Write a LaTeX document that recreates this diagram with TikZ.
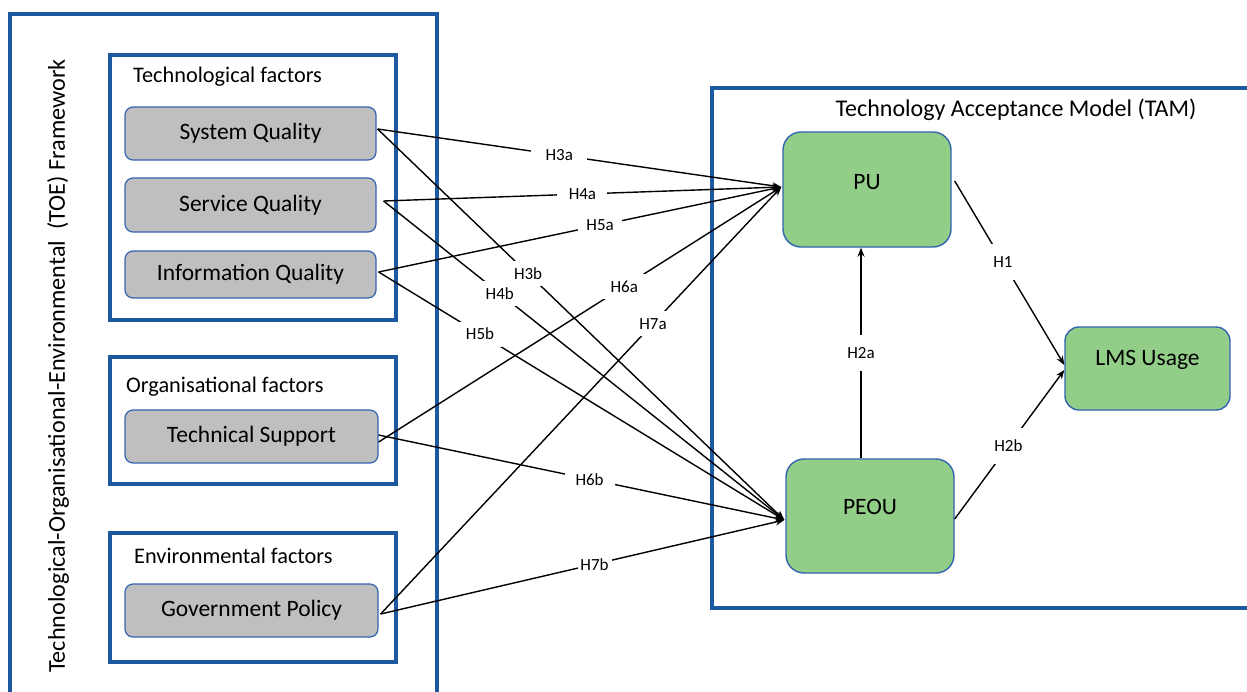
\documentclass[tikz,border=0pt]{standalone}
\usepackage{fontspec}
\setmainfont{Carlito}
\usetikzlibrary{arrows.meta}
\definecolor{frameblue}{RGB}{30,88,158}
\definecolor{nodeblue}{RGB}{50,100,175}
\definecolor{boxgray}{RGB}{191,191,191}
\definecolor{boxgreen}{RGB}{147,206,137}
\begin{document}
\begin{tikzpicture}[x=1pt,y=-1pt,
  frame/.style={draw=frameblue,line width=3.5pt},
  factor/.style={draw=nodeblue,line width=1.2pt,fill=boxgray,rounded corners=8pt,
    inner sep=0pt,font=\fontsize{23.5}{27}\selectfont},
  tam/.style={draw=nodeblue,line width=1.4pt,fill=boxgreen,rounded corners=18pt,
    inner sep=0pt},
  tamtext/.style={font=\fontsize{23.5}{27}\selectfont,inner sep=0pt},
  title/.style={font=\fontsize{22.3}{26}\selectfont,anchor=west,inner sep=0pt},
  lbl/.style={fill=white,inner sep=0pt,minimum width=44pt,minimum height=25pt,
    font=\fontsize{17}{19}\selectfont},
  vlbl/.style={lbl,minimum width=30pt,minimum height=36pt},
  arr/.style={line width=1.4pt,-{Stealth[length=9pt,width=7pt]}}]
\useasboundingbox (0,0) rectangle (1247,691);
\clip (0,0) rectangle (1247,691);
% frames
\draw[frame] (10,14) rectangle (437,710);
\draw[frame] (110,55) rectangle (396,320);
\draw[frame] (110,357) rectangle (396,484);
\draw[frame] (110,533) rectangle (396,662);
\draw[frame] (712,88) rectangle (1270,608);
% titles
\node[rotate=90,font=\fontsize{24.2}{28}\selectfont,inner sep=0pt] (toe) at (58,366)
  {Technological-Organisational-Environmental\ \ (TOE) Framework};
\node[title] (tft) at (133,77) {Technological factors};
\node[title] (oft) at (126,387) {Organisational factors};
\node[title] (eft) at (134,556) {Environmental factors};
\node[font=\fontsize{24}{28}\selectfont,inner sep=0pt] (tamt) at (1016,110) {Technology Acceptance Model (TAM)};
% factor nodes
\node[factor,minimum width=251pt,minimum height=53pt] (SQ) at (250.5,133.5) {System Quality};
\node[factor,minimum width=251pt,minimum height=54pt] (SVQ) at (250.5,205) {Service Quality};
\node[factor,minimum width=251pt,minimum height=47pt] (IQ) at (250.5,274.5) {Information Quality};
\node[factor,minimum width=253pt,minimum height=53pt] (TS) at (251.5,436.5) {Technical Support};
\node[factor,minimum width=253pt,minimum height=53pt] (GP) at (251.5,610.5) {Government Policy};
% TAM nodes
\node[tam,minimum width=168pt,minimum height=115pt] (PU) at (867,189.5) {};
\node[tamtext] (PUt) at (867,182) {PU};
\node[tam,minimum width=168pt,minimum height=114pt] (PEOU) at (870,516) {};
\node[tamtext] (PEOUt) at (870,507) {PEOU};
\node[tam,minimum width=165pt,minimum height=83pt,rounded corners=14pt] (LMS) at (1147.5,368.5) {};
\node[tamtext] (LMSt) at (1147.5,360) {LMS Usage};
% connection points
\coordinate (sq) at ([shift={(1,-4.5)}]SQ.east);
\coordinate (svq) at ([shift={(7,-4)}]SVQ.east);
\coordinate (iq) at ([shift={(2,-2.5)}]IQ.east);
\coordinate (tsa) at ([shift={(0,5.5)}]TS.east);
\coordinate (tsb) at ([shift={(0,-1.5)}]TS.east);
\coordinate (gp) at ([shift={(2,3.5)}]GP.east);
\coordinate (pu) at ([shift={(-1,-2.5)}]PU.west);
\coordinate (peou) at ([shift={(-1,4)}]PEOU.west);
\coordinate (puo) at ([shift={(3,-8.5)}]PU.east);
\coordinate (peouo) at ([shift={(0,3)}]PEOU.east);
\coordinate (lmsa) at ([yshift=3.5]LMS.west);
\coordinate (lmsb) at ([yshift=-1.5]LMS.west);
\coordinate (peoun) at ([xshift=-9]PEOU.north);
\coordinate (pus) at (peoun |- PU.south);
% connectors
\draw[arr] (sq) -- (pu);
\draw[arr] (svq) -- (pu);
\draw[arr] (iq) -- (pu);
\draw[arr] (tsa) -- (pu);
\draw[arr] (gp) -- (pu);
\draw[arr] (sq) -- (peou);
\draw[arr] (svq) -- (peou);
\draw[arr] (iq) -- (peou);
\draw[arr] (tsb) -- (peou);
\draw[arr] (gp) -- (peou);
\draw[arr] (puo) -- (lmsa);
\draw[arr] (peouo) -- (lmsb);
\draw[arr] (peoun) -- (pus);
% labels
\path (sq) -- (pu) node[lbl,pos=0.45,minimum width=56pt] {H3a};
\path (svq) -- (pu) node[lbl,pos=0.5,minimum width=50pt] {H4a};
\path (iq) -- (pu) node[lbl,pos=0.55] {H5a};
\path (tsa) -- (pu) node[lbl,pos=0.61] {H6a};
\path (gp) -- (pu) node[lbl,pos=0.68] {H7a};
\path (svq) -- (peou) node[lbl,pos=0.29,minimum width=40pt] {H4b};
\path (sq) -- (peou) node[lbl,pos=0.37] {H3b};
\path (iq) -- (peou) node[lbl,pos=0.25] {H5b};
\path (tsb) -- (peou) node[lbl,pos=0.52,minimum width=50pt] {H6b};
\path (gp) -- (peou) node[lbl,pos=0.53,minimum width=34pt,minimum height=22pt] {H7b};
\path (puo) -- (lmsa) node[vlbl,pos=0.44] {H1};
\path (peouo) -- (lmsb) node[vlbl,pos=0.49] {H2b};
\path (peoun) -- (pus) node[vlbl,pos=0.5] {H2a};
\end{tikzpicture}
\end{document}
